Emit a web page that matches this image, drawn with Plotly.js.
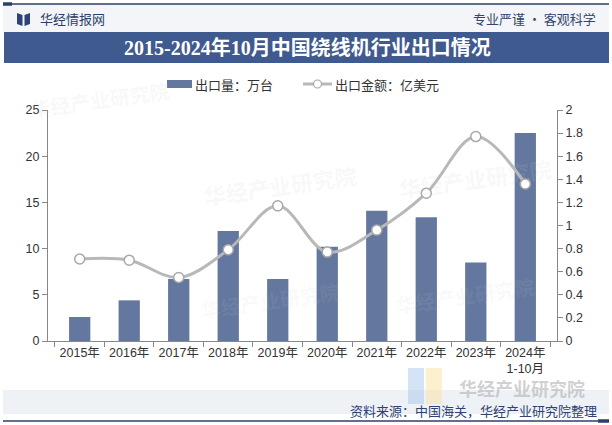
<!DOCTYPE html>
<html>
<head>
<meta charset="utf-8">
<script src="https://cdn.plot.ly/plotly-3.0.1.min.js"></script>
<style>html,body{margin:0;padding:0;background:#fff;}#chart{width:612px;height:425px;}</style>
</head>
<body>
<div id="chart"></div>
<script>
// ---- data ----
const categories = ['2015年','2016年','2017年','2018年','2019年','2020年','2021年','2022年','2023年','2024年<br>1-10月'];
const exportVolume = [2.6, 4.4, 6.7, 11.9, 6.7, 10.2, 14.1, 13.4, 8.5, 22.5];   // 万台
const exportValue = [0.71, 0.70, 0.55, 0.79, 1.17, 0.77, 0.96, 1.28, 1.77, 1.36]; // 亿美元
const titleText = '2015-2024年10月中国绕线机行业出口情况';
const volumeName = '出口量：万台';
const valueName = '出口金额：亿美元';
const sourceText = '资料来源：中国海关，华经产业研究院整理';

// ---- geometry helpers (pixel -> paper) ----
const L = 48, R = 557, T = 110, B = 341;
const px = x => (x - L) / (R - L);
const py = y => (B - y) / (B - T);

const CJK = '"Noto Sans CJK SC", "Liberation Sans", sans-serif';
const NUM = '"Liberation Sans", Arial, "Noto Sans CJK SC", sans-serif';
const barColor = '#64789f';
const lineColor = '#b8b8b8';

const traces = [
  {
    type: 'bar', x: categories, y: exportVolume, name: volumeName,
    marker: {color: barColor}, yaxis: 'y', hoverinfo: 'x+y'
  },
  {
    type: 'scatter', mode: 'lines+markers', x: categories, y: exportValue, name: valueName,
    yaxis: 'y2', line: {color: lineColor, width: 3, shape: 'spline', smoothing: 1},
    marker: {symbol: 'circle', size: 10, color: '#ffffff', line: {color: '#a8a8a8', width: 1.5}},
    cliponaxis: false
  }
];

const shapes = [
  // header background
  {type:'rect', xref:'paper', yref:'paper', x0:px(3), x1:px(609), y0:py(4), y1:py(32), fillcolor:'#f3f5f9', line:{width:0}, layer:'below'},
  // top line
  {type:'line', xref:'paper', yref:'paper', x0:px(3), x1:px(609), y0:py(4), y1:py(4), line:{color:'#2e3f68', width:1.5}},
  {type:'line', xref:'paper', yref:'paper', x0:px(3), x1:px(12), y0:py(4), y1:py(4), line:{color:'#2e3f68', width:3.5}},
  // title band
  {type:'rect', xref:'paper', yref:'paper', x0:px(4), x1:px(609), y0:py(32), y1:py(63), fillcolor:'#3f5a8e', line:{width:0}},
  // logo icon
  {type:'path', xref:'paper', yref:'paper', path:`M ${px(17)} ${py(13)} L ${px(22.5)} ${py(15)} L ${px(22.5)} ${py(26)} L ${px(17)} ${py(24)} Z`, fillcolor:'#2e4378', line:{width:0}},
  {type:'path', xref:'paper', yref:'paper', path:`M ${px(30)} ${py(13)} L ${px(24.5)} ${py(15)} L ${px(24.5)} ${py(26)} L ${px(30)} ${py(24)} Z`, fillcolor:'#2e4378', line:{width:0}},
  // legend swatches
  {type:'rect', xref:'paper', yref:'paper', x0:px(167), x1:px(192), y0:py(80), y1:py(88), fillcolor:barColor, line:{width:0}},
  {type:'line', xref:'paper', yref:'paper', x0:px(303), x1:px(332), y0:py(84), y1:py(84), line:{color:lineColor, width:3}},
  {type:'circle', xref:'paper', yref:'paper', x0:px(313.5), x1:px(321.5), y0:py(80), y1:py(88), fillcolor:'#ffffff', line:{color:'#a8a8a8', width:1.2}},
  // footer band
  {type:'rect', xref:'paper', yref:'paper', x0:px(3), x1:px(609), y0:py(390), y1:py(414), fillcolor:'#eef1f6', line:{width:0}, layer:'below'},
  // watermark logo bottom-right
  {type:'rect', xref:'paper', yref:'paper', x0:px(408), x1:px(424), y0:py(368), y1:py(404), fillcolor:'rgba(160,192,232,0.45)', line:{width:0}, layer:'below'},
  {type:'rect', xref:'paper', yref:'paper', x0:px(426), x1:px(442), y0:py(368), y1:py(404), fillcolor:'rgba(250,228,160,0.5)', line:{width:0}, layer:'below'},
  // bottom line
  {type:'line', xref:'paper', yref:'paper', x0:px(3), x1:px(609), y0:py(421), y1:py(421), line:{color:'#2e3f68', width:1.5}},
  {type:'line', xref:'paper', yref:'paper', x0:px(598), x1:px(609), y0:py(421), y1:py(421), line:{color:'#2e3f68', width:3.5}}
];

const wm = (txt, x, y, size, color) => ({text: txt, xref:'paper', yref:'paper', x:px(x), y:py(y), showarrow:false,
  xanchor:'center', yanchor:'middle', font:{family:CJK, size:size, color:color}, textangle:-8});

const annotations = [
  // faint background watermarks
  wm('<b>华经产业研究院</b>', 100, 100, 20, 'rgba(200,200,200,0.12)'),
  wm('<b>华经产业研究院</b>', 280, 185, 22, 'rgba(200,200,200,0.12)'),
  wm('<b>华经产业研究院</b>', 475, 178, 22, 'rgba(200,200,200,0.12)'),
  wm('<b>华经产业研究院</b>', 270, 300, 20, 'rgba(200,200,200,0.10)'),
  wm('<b>华经产业研究院</b>', 465, 295, 20, 'rgba(200,200,200,0.10)'),
  {text:'<b>华经产业研究院</b>', xref:'paper', yref:'paper', x:px(522), y:py(388), xanchor:'center', yanchor:'middle', showarrow:false,
   borderpad:0, font:{family:CJK, size:18, color:'rgba(170,170,170,0.55)'}},
  // header texts
  {text:'华经情报网', xref:'paper', yref:'paper', x:px(38), y:py(19), xanchor:'left', yanchor:'middle', showarrow:false,
   font:{family:CJK, size:13, color:'#2c3f6b'}},
  {text:'专业严谨 • 客观科学', xref:'paper', yref:'paper', x:px(598), y:py(19), xanchor:'right', yanchor:'middle', showarrow:false,
   font:{family:CJK, size:13, color:'#34466e'}},
  {text:'<b>'+titleText+'</b>', xref:'paper', yref:'paper', x:px(307), y:py(48), xanchor:'center', yanchor:'middle', showarrow:false,
   font:{family:'"Liberation Serif", "Noto Sans CJK SC", serif', size:20, color:'#ffffff'}},
  // legend texts
  {text:volumeName, xref:'paper', yref:'paper', x:px(193), y:py(84), xanchor:'left', yanchor:'middle', showarrow:false,
   font:{family:CJK, size:13, color:'#333333'}},
  {text:valueName, xref:'paper', yref:'paper', x:px(333), y:py(84), xanchor:'left', yanchor:'middle', showarrow:false,
   font:{family:CJK, size:13, color:'#333333'}},
  // source
  {text:sourceText, xref:'paper', yref:'paper', x:px(598), y:py(410), xanchor:'right', yanchor:'middle', showarrow:false,
   borderpad:0, font:{family:CJK, size:13, color:'#2f4270'}}
];

const layout = {
  width: 612, height: 425,
  margin: {l: L, r: 612 - R, t: T, b: 425 - B, pad: 0},
  paper_bgcolor: '#ffffff', plot_bgcolor: 'rgba(0,0,0,0)',
  showlegend: false,
  bargap: 0.57,
  font: {family: NUM, size: 12, color: '#333333'},
  xaxis: {
    type: 'category', showgrid: false, showline: true, linecolor: '#888888', linewidth: 1,
    ticks: 'outside', ticklen: 5, tickcolor: '#888888', tickson: 'boundaries',
    tickfont: {family: NUM, size: 12.5, color: '#333333'}, zeroline: false
  },
  yaxis: {
    range: [0, 25], dtick: 5, showgrid: false, showline: true, linecolor: '#888888', linewidth: 1,
    ticks: 'outside', ticklen: 5, tickcolor: '#888888', zeroline: false,
    tickfont: {family: NUM, size: 12.5, color: '#333333'}
  },
  yaxis2: {
    range: [0, 2], dtick: 0.2, overlaying: 'y', side: 'right', showgrid: false, showline: true,
    linecolor: '#888888', linewidth: 1, ticks: 'outside', ticklen: 5, tickcolor: '#888888', zeroline: false,
    tickfont: {family: NUM, size: 12.5, color: '#333333'}
  },
  shapes: shapes,
  annotations: annotations
};

Plotly.newPlot('chart', traces, layout, {displayModeBar: false, staticPlot: true});
</script>
</body>
</html>
